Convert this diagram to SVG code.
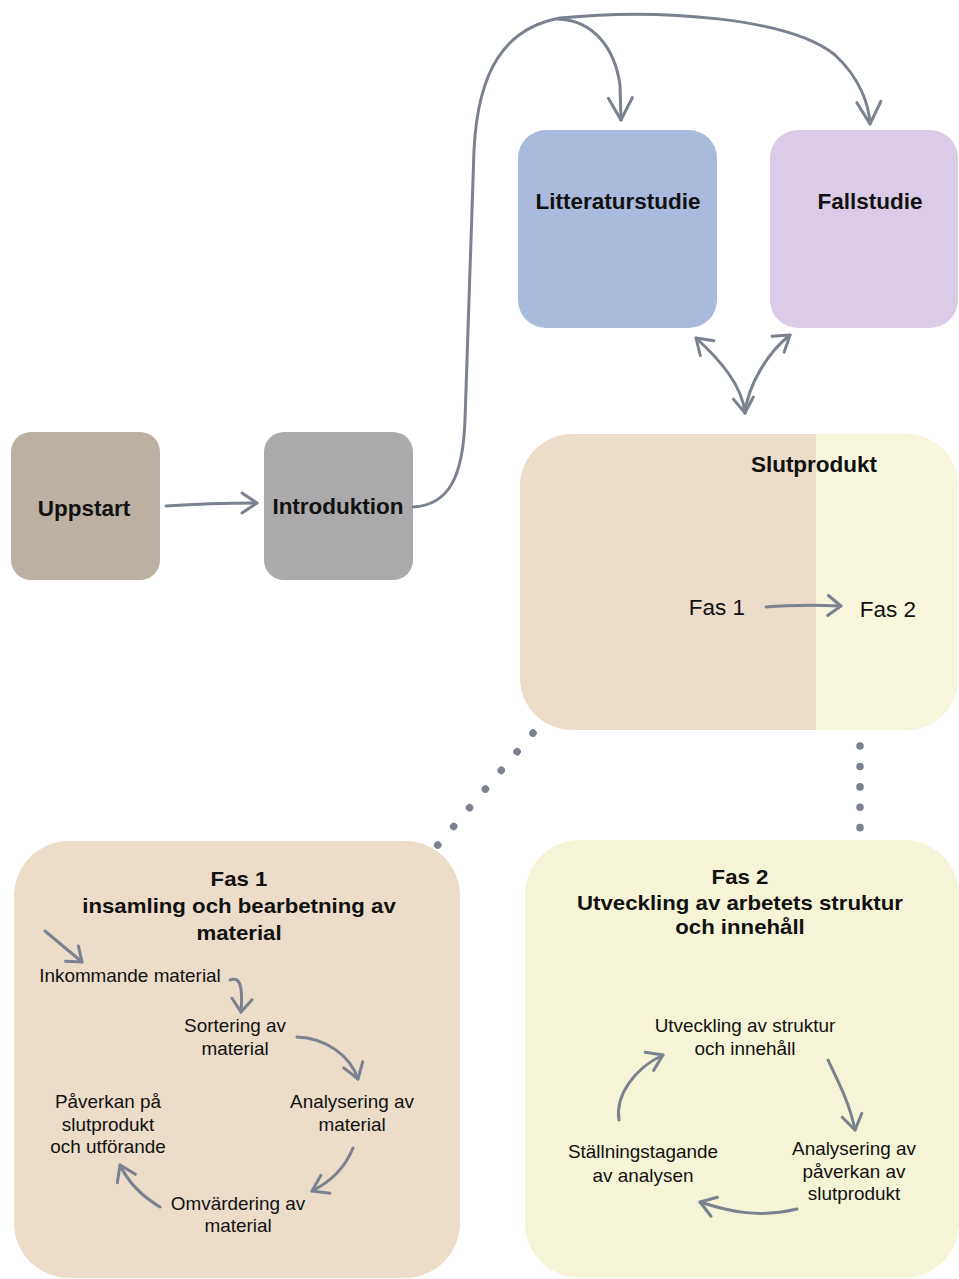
<svg xmlns="http://www.w3.org/2000/svg" width="959" height="1279" viewBox="0 0 959 1279">
<style>
  .t { font-family: "Liberation Sans", Arial, sans-serif; fill: #111; text-anchor: middle; }
  .b { font-weight: bold; font-size: 22.5px; }
  .r { font-size: 22.5px; }
  .h { font-weight: bold; font-size: 19.5px; }
  .s { font-size: 17.5px; }
  .ln { fill: none; stroke: #7a8290; stroke-width: 3; stroke-linecap: round; stroke-linejoin: round; }
  .dot { fill: none; stroke: #7a8290; stroke-width: 7.5; stroke-linecap: round; }
</style>
<defs>
  <marker id="big" markerUnits="userSpaceOnUse" viewBox="-26 -15 30 30" markerWidth="30" markerHeight="30" refX="0" refY="0" orient="auto">
    <path d="M-22,-12 L0,0 L-22,12" fill="none" stroke="#7a8290" stroke-width="3" stroke-linecap="round" stroke-linejoin="round"/>
  </marker>
  <marker id="med" markerUnits="userSpaceOnUse" viewBox="-20 -13 24 26" markerWidth="24" markerHeight="26" refX="0" refY="0" orient="auto-start-reverse">
    <path d="M-15,-10 L0,0 L-15,10" fill="none" stroke="#7a8290" stroke-width="3" stroke-linecap="round" stroke-linejoin="round"/>
  </marker>
  <marker id="sm" markerUnits="userSpaceOnUse" viewBox="-18 -12 22 24" markerWidth="22" markerHeight="24" refX="0" refY="0" orient="auto">
    <path d="M-13,-10 L0,0 L-13,10" fill="none" stroke="#7a8290" stroke-width="3" stroke-linecap="round" stroke-linejoin="round"/>
  </marker>
  <clipPath id="slutclip">
    <rect x="520" y="434" width="438" height="296" rx="52"/>
  </clipPath>
</defs>

<g id="uppstart">
  <rect x="11" y="432" width="149" height="148" rx="20" fill="#bcb0a2"/>
  <text class="t b" x="84" y="516">Uppstart</text>
</g>
<g id="introduktion">
  <rect x="264" y="432" width="149" height="148" rx="20" fill="#aba9ab"/>
  <text class="t b" x="338" y="514">Introduktion</text>
</g>
<g id="litteraturstudie">
  <rect x="518" y="130" width="199" height="198" rx="28" fill="#a9badd"/>
  <text class="t b" x="618" y="209">Litteraturstudie</text>
</g>
<g id="fallstudie">
  <rect x="770" y="130" width="188" height="198" rx="28" fill="#dccbe7"/>
  <text class="t b" x="870" y="209">Fallstudie</text>
</g>
<g id="slutprodukt">
  <rect x="520" y="434" width="438" height="296" rx="52" fill="#ecdcca"/>
  <rect x="816" y="434" width="143" height="296" fill="#f8f6dc" clip-path="url(#slutclip)"/>
  <text class="t b" x="814" y="472">Slutprodukt</text>
  <text class="t r" x="717" y="615">Fas 1</text>
  <text class="t r" x="888" y="617">Fas 2</text>
</g>
<g id="fas1">
  <rect x="14" y="841" width="446" height="437" rx="55" fill="#ecdcca"/>
  <g transform="translate(239,0) scale(1.14,1)">
    <text class="t h" x="0" y="886">Fas 1</text>
    <text class="t h" x="0" y="913">insamling och bearbetning av</text>
    <text class="t h" x="0" y="940">material</text>
  </g>
  <g transform="translate(130,0) scale(1.08,1)">
    <text class="t s" x="0" y="982">Inkommande material</text>
  </g>
  <g transform="translate(235,0) scale(1.08,1)">
    <text class="t s" x="0" y="1032">Sortering av</text>
    <text class="t s" x="0" y="1055">material</text>
  </g>
  <g transform="translate(352,0) scale(1.08,1)">
    <text class="t s" x="0" y="1108">Analysering av</text>
    <text class="t s" x="0" y="1131">material</text>
  </g>
  <g transform="translate(108,0) scale(1.08,1)">
    <text class="t s" x="0" y="1108">Påverkan på</text>
    <text class="t s" x="0" y="1131">slutprodukt</text>
    <text class="t s" x="0" y="1153">och utförande</text>
  </g>
  <g transform="translate(238,0) scale(1.08,1)">
    <text class="t s" x="0" y="1210">Omvärdering av</text>
    <text class="t s" x="0" y="1232">material</text>
  </g>
</g>
<g id="fas2">
  <rect x="525" y="840" width="434" height="438" rx="55" fill="#f6f4d6"/>
  <g transform="translate(740,0) scale(1.14,1)">
    <text class="t h" x="0" y="884">Fas 2</text>
    <text class="t h" x="0" y="910">Utveckling av arbetets struktur</text>
    <text class="t h" x="0" y="934">och innehåll</text>
  </g>
  <g transform="translate(745,0) scale(1.08,1)">
    <text class="t s" x="0" y="1032">Utveckling av struktur</text>
    <text class="t s" x="0" y="1055">och innehåll</text>
  </g>
  <g transform="translate(854,0) scale(1.08,1)">
    <text class="t s" x="0" y="1155">Analysering av</text>
    <text class="t s" x="0" y="1178">påverkan av</text>
    <text class="t s" x="0" y="1200">slutprodukt</text>
  </g>
  <g transform="translate(643,0) scale(1.08,1)">
    <text class="t s" x="0" y="1158">Ställningstagande</text>
    <text class="t s" x="0" y="1182">av analysen</text>
  </g>
</g>

<g id="connectors">
  <path class="ln" d="M166,506 C195,504 225,503 257,503" marker-end="url(#med)"/>
  <path class="ln" d="M413,507 C450,505 463,475 465,420 L474,150 C478,70 505,28 560,18 C660,8 790,18 835,55 C860,78 869,105 870,124" marker-end="url(#big)"/>
  <path class="ln" d="M557,19 C595,20 615,50 620,85 L621,120" marker-end="url(#big)"/>
  <path class="ln" d="M696,338 C720,360 742,385 745,413" marker-start="url(#med)" marker-end="url(#med)"/>
  <path class="ln" d="M790,335 C768,352 748,385 745,413" marker-start="url(#med)"/>
  <path class="ln" d="M766,607 C790,605 815,605 841,606" marker-end="url(#sm)"/>
  <path class="dot" d="M533,733 L437,846" stroke-dasharray="0.1 24.4"/>
  <path class="dot" d="M860,746 L860,828" stroke-dasharray="0.1 20.3"/>
  <path class="ln" d="M45,931 C58,942 70,952 82,962" marker-end="url(#sm)"/>
  <path class="ln" d="M230,980 C240,976 243,986 241,1012" marker-end="url(#sm)"/>
  <path class="ln" d="M297,1037 C325,1038 350,1055 358,1079" marker-end="url(#med)"/>
  <path class="ln" d="M353,1148 C345,1168 330,1182 312,1191" marker-end="url(#med)"/>
  <path class="ln" d="M160,1207 C140,1195 128,1182 120,1165" marker-end="url(#med)"/>
  <path class="ln" d="M828,1060 C840,1085 850,1105 855,1130" marker-end="url(#med)"/>
  <path class="ln" d="M797,1209 C760,1218 730,1212 700,1202" marker-end="url(#med)"/>
  <path class="ln" d="M619,1120 C615,1095 635,1068 663,1055" marker-end="url(#med)"/>
</g>
</svg>
